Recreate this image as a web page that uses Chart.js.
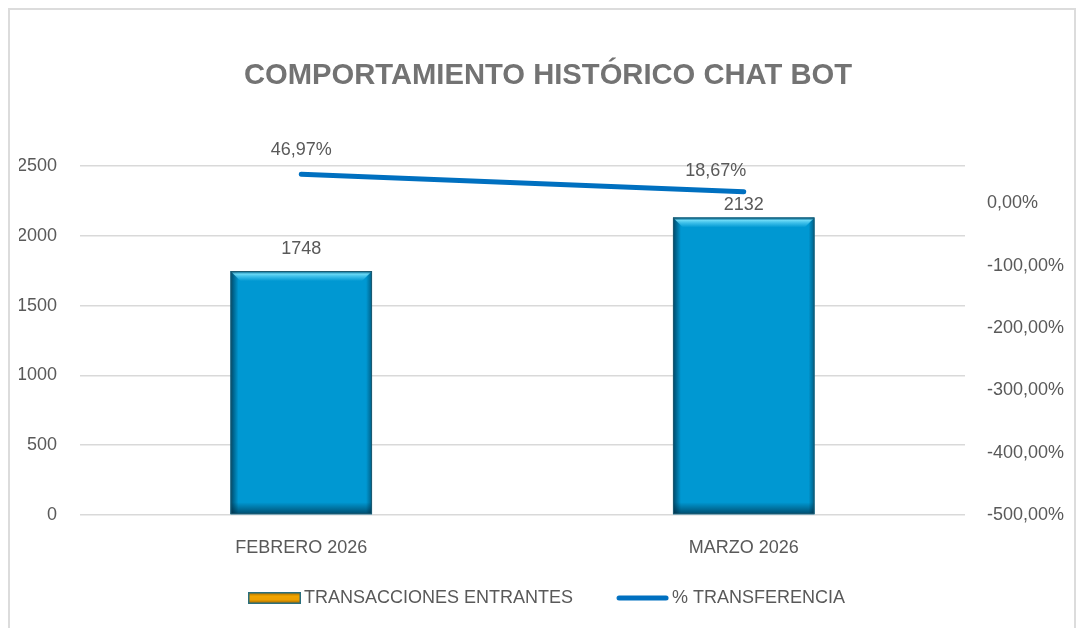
<!DOCTYPE html>
<html>
<head>
<meta charset="utf-8">
<script src="https://cdn.jsdelivr.net/npm/chart.js@4/dist/chart.umd.min.js"></script>
<style>
  html, body { margin: 0; padding: 0; background: #fff; }
  #wrap { position: relative; width: 1077px; height: 628px; overflow: hidden; }
  #frame { position: absolute; left: 8px; top: 8px; width: 1068px; height: 700px;
           border: 2px solid #dcdcdc; box-sizing: border-box; }
  #chart { position: absolute; left: 0; top: 0; }
</style>
</head>
<body>
<div id="wrap">
  <div id="frame"></div>
  <canvas id="chart" width="1077" height="628"></canvas>
</div>
<script>
const categories = ["FEBRERO 2026", "MARZO 2026"];
const transacciones = [1748, 2132];
const transferencia = [0.4697, 0.1867];
const seriesNames = ["TRANSACCIONES ENTRANTES", "% TRANSFERENCIA"];

const FONT = "'Liberation Sans', Arial, sans-serif";
const TEXT = "#595959";

const pct = v => (v * 100).toFixed(2).replace(".", ",") + "%";

// legend icons: 92px wide canvas, visible mark on the right part
function barIcon() {
  const c = document.createElement("canvas");
  c.width = 92; c.height = 12;
  const g = c.getContext("2d");
  const grad = g.createLinearGradient(0, 0, 0, 12);
  grad.addColorStop(0, "#9a6200");
  grad.addColorStop(0.35, "#f0a500");
  grad.addColorStop(0.65, "#eea000");
  grad.addColorStop(1, "#8c5a00");
  g.fillStyle = grad;
  g.fillRect(40, 1, 51, 10);
  g.strokeStyle = "#2b6f7d";
  g.lineWidth = 1.5;
  g.strokeRect(39.75, 0.75, 51.5, 10.5);
  return c;
}
function lineIcon() {
  const c = document.createElement("canvas");
  c.width = 92; c.height = 6;
  const g = c.getContext("2d");
  g.strokeStyle = "#0070c0";
  g.lineWidth = 5;
  g.lineCap = "round";
  g.beginPath();
  g.moveTo(42, 3); g.lineTo(89, 3);
  g.stroke();
  return c;
}
const icons = [barIcon(), lineIcon()];

// bevel look on the bars
const bevelBars = {
  id: "bevelBars",
  afterDatasetDraw(chart, args) {
    if (args.index !== 0) return;
    const ctx = chart.ctx;
    args.meta.data.forEach(bar => {
      const l = bar.x - bar.width / 2, r = bar.x + bar.width / 2;
      const t = bar.y, b = bar.base;
      ctx.save();
      ctx.beginPath(); ctx.rect(l, t, r - l, b - t); ctx.clip();
      let g = ctx.createLinearGradient(l, 0, l + 8, 0);
      g.addColorStop(0, "rgba(0,35,55,0.7)");
      g.addColorStop(1, "rgba(0,35,55,0)");
      ctx.fillStyle = g; ctx.fillRect(l, t, 8, b - t);
      g = ctx.createLinearGradient(r - 6, 0, r, 0);
      g.addColorStop(0, "rgba(0,35,55,0)");
      g.addColorStop(1, "rgba(0,35,55,0.5)");
      ctx.fillStyle = g; ctx.fillRect(r - 6, t, 6, b - t);
      g = ctx.createLinearGradient(0, b - 12, 0, b);
      g.addColorStop(0, "rgba(0,35,55,0)");
      g.addColorStop(1, "rgba(0,35,55,0.65)");
      ctx.fillStyle = g; ctx.fillRect(l, b - 12, r - l, 12);
      // top bevel highlight
      g = ctx.createLinearGradient(0, t, 0, t + 10);
      g.addColorStop(0, "rgba(0,60,90,0.5)");
      g.addColorStop(0.3, "rgba(120,225,250,0.9)");
      g.addColorStop(0.6, "rgba(90,210,245,0.6)");
      g.addColorStop(1, "rgba(90,210,245,0)");
      ctx.fillStyle = g;
      ctx.beginPath();
      ctx.moveTo(l, t); ctx.lineTo(r, t); ctx.lineTo(r - 10, t + 10); ctx.lineTo(l + 10, t + 10);
      ctx.closePath(); ctx.fill();
      ctx.restore();
      ctx.strokeStyle = "#1d5a70";
      ctx.lineWidth = 1;
      ctx.strokeRect(l + 0.5, t + 0.5, r - l - 1, b - t - 1);
    });
  }
};

// value labels
const barLabelGap = [22, 12];
const lineLabelGap = [24, 21];
const lineLabelShift = [0, -28];
const valueLabels = {
  id: "valueLabels",
  afterDatasetsDraw(chart) {
    const ctx = chart.ctx;
    ctx.save();
    ctx.font = "18px " + FONT;
    ctx.fillStyle = TEXT;
    ctx.textAlign = "center";
    ctx.textBaseline = "middle";
    chart.getDatasetMeta(0).data.forEach((bar, i) => {
      ctx.fillText(String(transacciones[i]), bar.x, bar.y - barLabelGap[i]);
    });
    chart.getDatasetMeta(1).data.forEach((pt, i) => {
      ctx.fillText(pct(transferencia[i]), pt.x + lineLabelShift[i], pt.y - lineLabelGap[i]);
    });
    ctx.restore();
  }
};

// nudge the legend a bit to the left, like the original
const legendShift = {
  id: "legendShift",
  afterLayout(chart) {
    chart.legend.left -= 18;
    chart.legend.right -= 18;
  }
};

new Chart(document.getElementById("chart"), {
  data: {
    labels: categories,
    datasets: [
      {
        type: "bar",
        label: seriesNames[0],
        data: transacciones,
        yAxisID: "y",
        order: 1,
        backgroundColor: "#0098d2",
        barPercentage: 0.64,
        categoryPercentage: 0.5
      },
      {
        type: "line",
        label: seriesNames[1],
        data: transferencia,
        yAxisID: "y1",
        order: 0,
        borderColor: "#0070c0",
        borderWidth: 5,
        borderCapStyle: "round",
        pointRadius: 0,
        tension: 0
      }
    ]
  },
  options: {
    responsive: false,
    animation: false,
    layout: { padding: { top: 0, left: 19, right: 0, bottom: 11 } },
    plugins: {
      title: {
        display: true,
        text: "COMPORTAMIENTO HISTÓRICO CHAT BOT",
        color: "#737373",
        font: { family: FONT, size: 29.2, weight: "bold" },
        padding: { top: 58, bottom: 73 }
      },
      legend: {
        position: "bottom",
        labels: {
          color: TEXT,
          font: { family: FONT, size: 18 },
          usePointStyle: true,
          pointStyleWidth: 80,
          padding: 10,
          generateLabels: chart => chart.data.datasets.map((ds, i) => ({
            text: ds.label,
            pointStyle: icons[i],
            fontColor: TEXT,
            datasetIndex: i,
            lineWidth: 0
          }))
        }
      },
      tooltip: { enabled: false }
    },
    scales: {
      x: {
        grid: { display: false },
        border: { display: false },
        ticks: { color: TEXT, font: { family: FONT, size: 18 }, padding: 14 },
        afterFit: s => { s.height = 64; }
      },
      y: {
        position: "left",
        min: 0,
        max: 2500,
        grid: { color: "#d9d9d9", lineWidth: 1.5, drawTicks: false },
        border: { display: false },
        ticks: {
          stepSize: 500,
          color: TEXT,
          font: { family: FONT, size: 18 },
          padding: 23,
          callback: v => String(v)
        },
        afterFit: s => { s.width = 61; }
      },
      y1: {
        position: "right",
        min: -5,
        max: 0.6,
        grid: { display: false, drawTicks: false },
        border: { display: false },
        ticks: {
          stepSize: 1,
          color: TEXT,
          font: { family: FONT, size: 18 },
          padding: 22,
          callback: v => pct(v)
        },
        afterBuildTicks: s => {
          s.ticks = s.ticks.filter(t => Math.abs(t.value - Math.round(t.value)) < 1e-9);
        },
        afterFit: s => { s.width = 112; }
      }
    }
  },
  plugins: [bevelBars, valueLabels, legendShift]
});
</script>
</body>
</html>
